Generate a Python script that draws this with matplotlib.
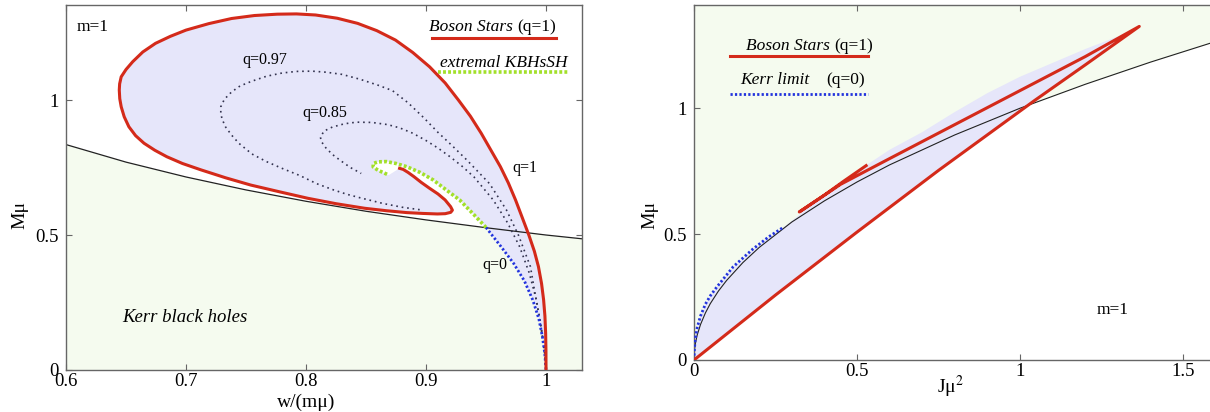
import matplotlib
matplotlib.use("Agg")
import matplotlib.pyplot as plt

plt.rcParams['font.family'] = ['Liberation Serif', 'DejaVu Serif']
plt.rcParams['mathtext.fontset'] = 'stix'

# ---------------- Left panel data: M mu vs w/(m mu) ----------------
kerr_w = [0.60, 0.65, 0.70, 0.75, 0.80, 0.85, 0.90, 0.95, 1.00, 1.03]
kerr_M = [0.835, 0.770, 0.715, 0.667, 0.625, 0.588, 0.556, 0.527, 0.500, 0.486]

bs_w = [1.000, 0.99996, 0.9997, 0.9991, 0.998, 0.9963, 0.9937, 0.9903, 0.9857, 0.980,
        0.9746, 0.9686, 0.962, 0.954, 0.946, 0.937, 0.927, 0.916, 0.903, 0.889,
        0.8746, 0.859, 0.843, 0.826, 0.808, 0.792, 0.776, 0.757, 0.738, 0.719,
        0.700, 0.687, 0.6746, 0.664, 0.6556, 0.650, 0.646, 0.6447, 0.6444, 0.6448,
        0.646, 0.6485, 0.6524, 0.658, 0.665, 0.674, 0.684, 0.697, 0.7127, 0.733,
        0.754, 0.778, 0.8016, 0.825, 0.849, 0.867, 0.884, 0.897, 0.9095, 0.916,
        0.9206, 0.922, 0.9205, 0.9159, 0.910, 0.903, 0.896, 0.890, 0.885, 0.881, 0.878]
bs_M = [0.000, 0.070, 0.136, 0.200, 0.260, 0.320, 0.383, 0.440, 0.500, 0.567,
        0.630, 0.693, 0.753, 0.815, 0.877, 0.940, 1.000, 1.063, 1.123, 1.176,
        1.222, 1.257, 1.284, 1.303, 1.315, 1.319, 1.318, 1.313, 1.302, 1.283,
        1.259, 1.236, 1.210, 1.178, 1.142, 1.113, 1.086, 1.060, 1.037, 1.005,
        0.975, 0.938, 0.901, 0.868, 0.840, 0.814, 0.790, 0.765, 0.741, 0.712,
        0.685, 0.660, 0.636, 0.616, 0.599, 0.590, 0.583, 0.580, 0.578, 0.579,
        0.584, 0.592, 0.605, 0.630, 0.652, 0.673, 0.695, 0.716, 0.732, 0.743, 0.747]

ext_w = [0.950, 0.940, 0.928, 0.916, 0.906, 0.895, 0.884, 0.875, 0.867, 0.860,
         0.856, 0.856, 0.860, 0.869]
ext_M = [0.528, 0.575, 0.630, 0.670, 0.704, 0.732, 0.753, 0.765, 0.772, 0.771,
         0.765, 0.752, 0.740, 0.722]

q0_w = [0.950, 0.962, 0.973, 0.982, 0.989, 0.994, 0.997, 0.999, 1.000]
q0_M = [0.528, 0.460, 0.395, 0.330, 0.259, 0.190, 0.123, 0.060, 0.000]

q97_w = [1.000, 0.999, 0.997, 0.995, 0.991, 0.987, 0.977, 0.967, 0.953, 0.934,
         0.922, 0.910, 0.898, 0.885, 0.872, 0.860, 0.845, 0.830, 0.817, 0.805,
         0.792, 0.780, 0.767, 0.755, 0.745, 0.738, 0.732, 0.729, 0.729, 0.730,
         0.733, 0.738, 0.744, 0.755, 0.767, 0.780, 0.795, 0.809, 0.823, 0.834,
         0.845, 0.855, 0.864, 0.880, 0.896]
q97_M = [0.000, 0.060, 0.120, 0.185, 0.280, 0.383, 0.500, 0.593, 0.690, 0.778,
         0.830, 0.880, 0.935, 0.990, 1.035, 1.055, 1.077, 1.095, 1.103, 1.107,
         1.106, 1.100, 1.088, 1.070, 1.052, 1.030, 1.003, 0.975, 0.952, 0.930,
         0.900, 0.870, 0.840, 0.800, 0.772, 0.747, 0.720, 0.690, 0.667, 0.651,
         0.638, 0.627, 0.617, 0.603, 0.593]

q85_w = [1.000, 0.999, 0.997, 0.992, 0.986, 0.978, 0.968, 0.956, 0.940, 0.930,
         0.920, 0.910, 0.900, 0.889, 0.878, 0.868, 0.855, 0.842, 0.832, 0.822,
         0.815, 0.812, 0.813, 0.817, 0.823, 0.829, 0.837, 0.846]
q85_M = [0.000, 0.060, 0.130, 0.259, 0.360, 0.457, 0.545, 0.630, 0.715, 0.755,
         0.790, 0.822, 0.850, 0.877, 0.897, 0.909, 0.917, 0.918, 0.912, 0.900,
         0.885, 0.862, 0.845, 0.820, 0.795, 0.775, 0.750, 0.728]

xticks_left = [0.6, 0.7, 0.8, 0.9, 1.0]
xticklabels_left = ['0.6', '0.7', '0.8', '0.9', '1']
yticks = [0, 0.5, 1]
yticklabels = ['0', '0.5', '1']

# ---------------- Right panel data: M mu vs J mu^2 ----------------
kerrJ = [0, 0.002, 0.005, 0.01, 0.02, 0.035, 0.05, 0.075, 0.1, 0.15, 0.2, 0.3, 0.4,
         0.5, 0.6, 0.8, 1.0, 1.2, 1.4, 1.6]
kerrJ_M = [0, 0.045, 0.071, 0.100, 0.141, 0.187, 0.224, 0.274, 0.316, 0.387, 0.447,
           0.548, 0.632, 0.707, 0.775, 0.894, 1.0, 1.095, 1.183, 1.265]

klim_J = [0, 0.001, 0.004, 0.01, 0.02, 0.035, 0.05, 0.07, 0.095, 0.12, 0.15, 0.18,
          0.23, 0.274]
klim_M = [0, 0.040, 0.085, 0.130, 0.175, 0.222, 0.255, 0.290, 0.330, 0.370, 0.405,
          0.440, 0.490, 0.527]

# boson star curve: lower branch to the tip, upper branch back, short final piece
bsJ = [0, 0.25, 0.50, 0.75, 1.044, 1.20, 1.366,
       1.20, 1.00, 0.80, 0.60, 0.45, 0.323,
       0.40, 0.46, 0.528]
bsJ_M = [0, 0.258, 0.508, 0.753, 1.030, 1.172, 1.325,
         1.205, 1.070, 0.935, 0.800, 0.698, 0.588,
         0.655, 0.711, 0.772]
N_LOWER = 7

lav_J = [1.366, 1.30, 1.20, 1.10, 1.00, 0.90, 0.80, 0.70, 0.60, 0.53, 0.45, 0.40, 0.35, 0.30]
lav_M = [1.325, 1.285, 1.235, 1.18, 1.125, 1.06, 0.985, 0.905, 0.835, 0.775, 0.690, 0.650, 0.605, 0.553]

xticks_right = [0, 0.5, 1, 1.5]
xticklabels_right = ['0', '0.5', '1', '1.5']

RED = '#d42a1a'
LAV = '#e6e6fa'
PGREEN = '#f5fbef'
BLUE = '#2233dd'
LIME = '#a2e02a'
DOTC = '#33334f'
SPINE = '#666666'

fig = plt.figure(figsize=(12.1, 4.12), dpi=100)
axL = fig.add_axes([66/1210, 1-370/412, 516/1210, 365/412])
axR = fig.add_axes([694/1210, 1-360/412, 521.6/1210, 355/412])


def style(ax):
    for s in ax.spines.values():
        s.set_color(SPINE)
        s.set_linewidth(1.0)
    ax.tick_params(direction='in', top=True, right=True, length=4, width=0.8,
                   color=SPINE, labelsize=13.5)
    ax.tick_params(axis='x', pad=2)
    ax.tick_params(axis='y', pad=5)


# ---- Left ----
axL.fill_between(kerr_w, 0, kerr_M, color=PGREEN, lw=0, zorder=0)
poly_w = bs_w + ext_w[::-1] + q0_w
poly_M = bs_M + ext_M[::-1] + q0_M
axL.fill(poly_w, poly_M, color=LAV, lw=0, zorder=1)
axL.plot(kerr_w, kerr_M, color='#222222', lw=0.9, zorder=2)
axL.plot(q97_w, q97_M, color=DOTC, lw=1.2, ls=(0, (1, 2.3)), zorder=3)
axL.plot(q85_w, q85_M, color=DOTC, lw=1.2, ls=(0, (1, 2.3)), zorder=3)
axL.plot(q0_w, q0_M, color=BLUE, lw=2.0, ls=(0, (0.8, 0.8)), zorder=3)
axL.plot(ext_w, ext_M, color=LIME, lw=2.6, ls=(0, (0.8, 0.6)), zorder=3)
axL.plot(bs_w, bs_M, color=RED, lw=2.2, zorder=4, solid_joinstyle='round')
axL.set_xlim(0.6, 1.03)
axL.set_ylim(0, 1.352)
axL.set_xticks(xticks_left)
axL.set_xticklabels(xticklabels_left)
axL.set_yticks(yticks)
axL.set_yticklabels(yticklabels)
style(axL)
axL.set_xlabel('w/(mμ)', fontsize=14)
axL.set_ylabel('Mμ', fontsize=14)
axL.xaxis.set_label_coords(0.465, -0.064)
axL.yaxis.set_label_coords(-0.072, 0.425)

axL.text(0.622, 1.27, 'm=1', fontsize=12.5, ha='center', va='center')
axL.text(0.766, 1.148, 'q=0.97', fontsize=11.5, ha='center', va='center')
axL.text(0.816, 0.952, 'q=0.85', fontsize=11.5, ha='center', va='center')
axL.text(0.9825, 0.748, 'q=1', fontsize=11.5, ha='center', va='center')
axL.text(0.957, 0.389, 'q=0', fontsize=11.5, ha='center', va='center')
axL.text(0.699, 0.193, 'Kerr black holes', fontsize=13.5, style='italic',
         ha='center', va='center')

# legend (left)
tL = axL.transAxes
axL.text(0.866, 0.94, 'Boson Stars', fontsize=12.5, style='italic', ha='right',
         va='center', transform=tL)
axL.text(0.874, 0.94, '(q=1)', fontsize=12.5, ha='left', va='center', transform=tL)
axL.plot([0.709, 0.95], [0.91, 0.91], color=RED, lw=2.2, transform=tL, clip_on=False)
axL.text(0.849, 0.841, 'extremal KBHsSH', fontsize=12.5, style='italic',
         ha='center', va='center', transform=tL)
axL.plot([0.721, 0.973], [0.816, 0.816], color=LIME, lw=2.6, ls=(0, (0.8, 0.6)),
         transform=tL, clip_on=False)

# ---- Right ----
axR.fill_between(kerrJ, kerrJ_M, 1.45, color=PGREEN, lw=0, zorder=0)
polyJ = bsJ[:N_LOWER] + lav_J[1:] + klim_J[::-1]
polyM = bsJ_M[:N_LOWER] + lav_M[1:] + klim_M[::-1]
axR.fill(polyJ, polyM, color=LAV, lw=0, zorder=1)
axR.plot(kerrJ, kerrJ_M, color='#222222', lw=0.8, zorder=2)
axR.plot(klim_J, klim_M, color=BLUE, lw=2.0, ls=(0, (0.8, 0.8)), zorder=3)
axR.plot(bsJ, bsJ_M, color=RED, lw=2.2, zorder=4)
axR.set_xlim(0, 1.6)
axR.set_ylim(0, 1.41)
axR.set_xticks(xticks_right)
axR.set_xticklabels(xticklabels_right)
axR.set_yticks(yticks)
axR.set_yticklabels(yticklabels)
style(axR)
axR.set_xlabel('Jμ$^{2}$', fontsize=14)
axR.set_ylabel('Mμ', fontsize=14)
axR.xaxis.set_label_coords(0.491, -0.040)
axR.yaxis.set_label_coords(-0.068, 0.408)
axR.text(1.285, 0.198, 'm=1', fontsize=12.5, ha='center', va='center')

tR = axR.transAxes
axR.text(0.261, 0.885, 'Boson Stars', fontsize=12.5, style='italic', ha='right',
         va='center', transform=tR)
axR.text(0.268, 0.885, '(q=1)', fontsize=12.5, ha='left', va='center', transform=tR)
axR.plot([0.069, 0.334], [0.856, 0.856], color=RED, lw=2.2, transform=tR, clip_on=False)
axR.text(0.222, 0.789, 'Kerr limit', fontsize=12.5, style='italic', ha='right',
         va='center', transform=tR)
axR.text(0.253, 0.789, '(q=0)', fontsize=12.5, ha='left', va='center', transform=tR)
axR.plot([0.069, 0.334], [0.749, 0.749], color=BLUE, lw=2.0, ls=(0, (0.8, 0.8)),
         transform=tR, clip_on=False)

fig.savefig('out.png', dpi=100)
